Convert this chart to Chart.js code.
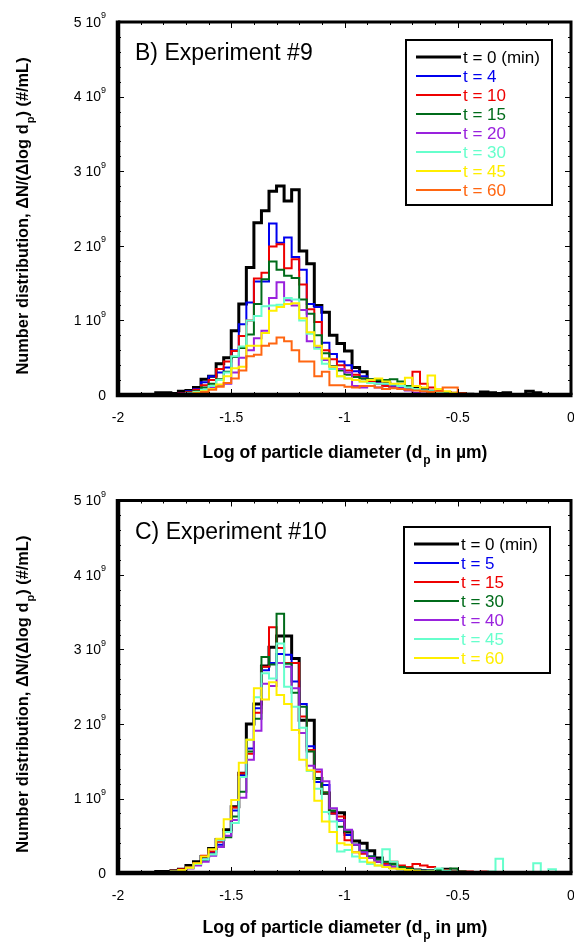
<!DOCTYPE html>
<html>
<head>
<meta charset="utf-8">
<script src="https://cdn.jsdelivr.net/npm/chart.js@4.4.1/dist/chart.umd.min.js"></script>
<style>
	html, body { margin: 0; padding: 0; background: #fff; }
	#wrap { position: relative; width: 574px; height: 943px; }
	canvas { position: absolute; left: 0; }
</style>
</head>
<body>
<div id="wrap">
	<canvas id="chart-exp9" width="574" height="470" style="top:0px"></canvas>
	<canvas id="chart-exp10" width="574" height="473" style="top:470px"></canvas>
</div>
<script>
// оси: log10 диаметра частиц, значения в единицах 10^9 #/mL
const xTicks = [-2, -1.5, -1, -0.5, 0];
const xTickLabels = ["-2", "-1.5", "-1", "-0.5", "0"];
const yTicks = [0, 1, 2, 3, 4, 5];
const yTickLabels = ["0", "1 10^9", "2 10^9", "3 10^9", "4 10^9", "5 10^9"];

// 60 интервалов шириной 1/30 декады от -2 до 0
const binStart = -2;
const binWidth = 1 / 30;
const binCount = 60;

// эксперимент #9
const exp9Names = ["t = 0 (min)", "t = 4", "t = 10", "t = 15", "t = 20", "t = 30", "t = 45", "t = 60"];
const exp9Colors = ["#000000", "#0000ee", "#ee0000", "#006b1a", "#9922dd", "#66ffcc", "#ffee00", "#ff6611"];
const exp9T0 = [
	0, 0, 0, 0, 0, 0.03, 0.03, 0.02, 0.05, 0.06,
	0.10, 0.21, 0.25, 0.42, 0.50, 0.86, 1.22, 1.71, 2.31, 2.47,
	2.73, 2.80, 2.60, 2.75, 1.93, 1.76, 1.20, 1.11, 0.80, 0.69,
	0.59, 0.37, 0.31, 0.20, 0.18, 0.16, 0.12, 0.10, 0.08, 0.10,
	0.08, 0.05, 0.04, 0.03, 0.02, 0.02, 0.01, 0, 0.04, 0.03,
	0.02, 0.03, 0, 0, 0.05, 0.03, 0, 0, 0, 0,
];
const exp9T4 = [
	0, 0, 0, 0, 0, 0, 0, 0, 0.02, 0.05,
	0.08, 0.17, 0.25, 0.30, 0.37, 0.60, 0.95, 1.24, 1.52, 1.52,
	2.30, 2.04, 2.11, 1.85, 1.68, 1.22, 1.18, 0.70, 0.55, 0.45,
	0.40, 0.32, 0.25, 0.20, 0.16, 0.14, 0.12, 0.10, 0.08, 0.07,
	0.06, 0.05, 0.04, 0.03, 0.02, 0.01, 0, 0, 0, 0,
	0, 0, 0, 0, 0, 0, 0, 0, 0, 0,
];
const exp9T10 = [
	0, 0, 0, 0, 0, 0, 0, 0, 0.02, 0.04,
	0.07, 0.13, 0.20, 0.35, 0.45, 0.59, 0.79, 1.00, 1.56, 1.64,
	1.99, 2.02, 1.70, 1.82, 1.48, 1.15, 0.98, 0.60, 0.48, 0.40,
	0.33, 0.27, 0.22, 0.18, 0.15, 0.12, 0.10, 0.12, 0.10, 0.31,
	0.15, 0.10, 0.06, 0.04, 0.03, 0.02, 0, 0, 0, 0,
	0, 0, 0, 0, 0, 0, 0, 0, 0, 0,
];
const exp9T15 = [
	0, 0, 0, 0, 0, 0, 0, 0, 0.01, 0.03,
	0.05, 0.10, 0.15, 0.21, 0.31, 0.51, 0.63, 0.81, 1.22, 1.55,
	1.79, 1.68, 1.60, 1.57, 1.28, 1.09, 0.80, 0.56, 0.39, 0.33,
	0.27, 0.24, 0.22, 0.21, 0.20, 0.20, 0.21, 0.18, 0.12, 0.08,
	0.06, 0.05, 0.04, 0.03, 0.02, 0, 0, 0, 0, 0,
	0, 0, 0, 0, 0, 0, 0, 0, 0, 0,
];
const exp9T20 = [
	0, 0, 0, 0, 0, 0, 0, 0, 0, 0.02,
	0.04, 0.06, 0.10, 0.13, 0.15, 0.30, 0.50, 0.60, 0.76, 0.86,
	1.30, 1.51, 1.27, 1.20, 1.14, 0.72, 0.64, 0.47, 0.38, 0.35,
	0.30, 0.12, 0.10, 0.12, 0.10, 0.08, 0.10, 0.09, 0.06, 0.03,
	0.02, 0, 0, 0, 0, 0, 0, 0, 0, 0,
	0, 0, 0, 0, 0, 0, 0, 0, 0, 0,
];
const exp9T30 = [
	0, 0, 0, 0, 0, 0, 0, 0, 0, 0.02,
	0.04, 0.07, 0.12, 0.20, 0.30, 0.52, 0.65, 1.00, 1.06, 1.19,
	1.20, 1.21, 1.30, 1.28, 1.00, 0.82, 0.62, 0.42, 0.35, 0.25,
	0.22, 0.20, 0.18, 0.16, 0.15, 0.15, 0.14, 0.12, 0.10, 0.08,
	0.06, 0.05, 0.03, 0.02, 0, 0, 0, 0, 0, 0,
	0, 0, 0, 0, 0, 0, 0, 0, 0, 0,
];
const exp9T45 = [
	0, 0, 0, 0, 0, 0, 0, 0, 0, 0.01,
	0.03, 0.05, 0.08, 0.14, 0.25, 0.36, 0.38, 0.66, 0.66, 0.83,
	1.13, 1.18, 1.22, 1.23, 1.03, 0.84, 0.66, 0.49, 0.38, 0.25,
	0.22, 0.20, 0.18, 0.20, 0.22, 0.18, 0.15, 0.15, 0.23, 0.12,
	0.10, 0.26, 0.08, 0.05, 0.03, 0.01, 0, 0, 0, 0,
	0, 0, 0, 0, 0, 0, 0, 0, 0, 0,
];
const exp9T60 = [
	0, 0, 0, 0, 0, 0, 0, 0, 0, 0.01,
	0.02, 0.04, 0.07, 0.11, 0.16, 0.22, 0.33, 0.52, 0.54, 0.66,
	0.69, 0.77, 0.72, 0.60, 0.45, 0.45, 0.25, 0.31, 0.13, 0.13,
	0.11, 0.10, 0.12, 0.12, 0.10, 0.08, 0.09, 0.08, 0.07, 0.06,
	0.05, 0.04, 0.05, 0.10, 0.10, 0.02, 0, 0, 0, 0,
	0, 0, 0, 0, 0, 0, 0, 0, 0, 0,
];

// эксперимент #10
const exp10Names = ["t = 0 (min)", "t = 5", "t = 15", "t = 30", "t = 40", "t = 45", "t = 60"];
const exp10Colors = ["#000000", "#0000ee", "#ee0000", "#006b1a", "#9922dd", "#66ffcc", "#ffee00"];
const exp10T0 = [
	0, 0, 0, 0, 0, 0.02, 0.02, 0.03, 0.05, 0.10,
	0.15, 0.22, 0.33, 0.45, 0.58, 0.89, 1.34, 2.00, 2.27, 2.78,
	3.03, 3.18, 3.18, 2.88, 2.05, 2.05, 1.27, 1.07, 0.81, 0.81,
	0.55, 0.43, 0.40, 0.30, 0.20, 0.12, 0.08, 0.06, 0.05, 0.04,
	0.03, 0.03, 0.02, 0.05, 0.02, 0.01, 0, 0, 0, 0,
	0, 0, 0, 0, 0, 0, 0, 0, 0, 0,
];
const exp10T5 = [
	0, 0, 0, 0, 0, 0, 0.01, 0.02, 0.04, 0.07,
	0.12, 0.18, 0.28, 0.38, 0.55, 0.84, 1.31, 1.67, 2.21, 2.72,
	2.82, 2.94, 2.93, 2.57, 2.27, 1.70, 1.22, 1.18, 0.80, 0.70,
	0.51, 0.38, 0.30, 0.22, 0.15, 0.10, 0.08, 0.05, 0.04, 0.04,
	0.03, 0.02, 0.03, 0.02, 0.03, 0.01, 0, 0, 0, 0,
	0, 0, 0, 0, 0, 0, 0, 0, 0, 0,
];
const exp10T15 = [
	0, 0, 0, 0, 0, 0, 0.01, 0.03, 0.05, 0.08,
	0.13, 0.23, 0.29, 0.42, 0.55, 0.88, 1.34, 1.60, 2.15, 2.77,
	3.30, 3.02, 2.82, 2.82, 2.10, 1.65, 1.36, 1.08, 0.80, 0.76,
	0.44, 0.28, 0.26, 0.20, 0.15, 0.12, 0.15, 0.10, 0.08, 0.12,
	0.10, 0.08, 0.05, 0.04, 0.03, 0.02, 0.02, 0.01, 0.02, 0.01,
	0, 0, 0, 0, 0, 0, 0, 0, 0, 0,
];
const exp10T30 = [
	0, 0, 0, 0, 0, 0, 0.01, 0.02, 0.04, 0.07,
	0.11, 0.17, 0.25, 0.35, 0.48, 0.76, 1.09, 1.63, 2.07, 2.90,
	2.80, 3.48, 2.81, 2.42, 2.23, 1.63, 1.27, 1.08, 0.84, 0.62,
	0.56, 0.38, 0.30, 0.22, 0.18, 0.15, 0.12, 0.08, 0.06, 0.04,
	0.03, 0.02, 0.04, 0.03, 0.06, 0.02, 0, 0, 0, 0,
	0, 0, 0, 0, 0, 0, 0, 0, 0, 0,
];
const exp10T40 = [
	0, 0, 0, 0, 0, 0, 0.01, 0.02, 0.03, 0.06,
	0.10, 0.15, 0.23, 0.35, 0.50, 0.71, 1.01, 1.52, 1.91, 2.54,
	2.51, 2.82, 2.77, 2.48, 1.88, 1.44, 1.39, 1.23, 0.87, 0.71,
	0.58, 0.38, 0.28, 0.20, 0.15, 0.10, 0.08, 0.05, 0.04, 0.03,
	0.02, 0.02, 0, 0, 0, 0, 0, 0, 0, 0,
	0, 0, 0, 0, 0, 0, 0, 0, 0, 0,
];
const exp10T45 = [
	0, 0, 0, 0, 0, 0, 0.01, 0.02, 0.04, 0.07,
	0.12, 0.18, 0.25, 0.44, 0.55, 0.67, 1.29, 1.79, 2.36, 2.68,
	2.61, 3.08, 2.50, 2.23, 1.95, 1.37, 1.13, 0.82, 0.69, 0.29,
	0.31, 0.22, 0.15, 0.12, 0.10, 0.32, 0.15, 0.05, 0.04, 0.03,
	0.02, 0.03, 0.06, 0.03, 0.02, 0.01, 0, 0, 0.01, 0.02,
	0.19, 0.01, 0, 0, 0, 0.13, 0.01, 0.05, 0, 0,
];
const exp10T60 = [
	0, 0, 0, 0, 0, 0, 0.01, 0.02, 0.04, 0.07,
	0.13, 0.22, 0.32, 0.46, 0.72, 0.98, 1.48, 1.79, 2.48, 2.33,
	2.56, 2.39, 2.27, 1.92, 1.52, 1.38, 0.97, 0.69, 0.55, 0.40,
	0.38, 0.28, 0.20, 0.14, 0.10, 0.08, 0.06, 0.05, 0.04, 0.03,
	0.02, 0.02, 0, 0, 0, 0, 0, 0, 0, 0,
	0, 0, 0, 0, 0, 0, 0, 0, 0, 0,
];

const FONT = "'Liberation Sans', Arial, Helvetica, sans-serif";

// левые края интервалов + закрывающая точка справа
function toSteps(values) {
	const pts = values.map((v, k) => ({ x: binStart + k * binWidth, y: v }));
	pts.push({ x: binStart + binCount * binWidth, y: values[values.length - 1] });
	return pts;
}

function makeDatasets(seriesList, names, colors) {
	return seriesList.map((values, i) => ({
		label: names[i],
		data: toSteps(values),
		borderColor: colors[i],
		borderWidth: i === 0 ? 3 : 2,
		stepped: "before", // значение держится до следующего края
		pointRadius: 0,
		fill: false,
		order: seriesList.length - i,
	}));
}

// текст с нижним индексом "p": части [обычный, индекс, обычный]
function drawSubText(ctx, parts, size, x, y) {
	const mainFont = "bold " + size + "px " + FONT;
	const subFont = "bold " + Math.round(size * 0.7) + "px " + FONT;
	ctx.font = mainFont;
	const w0 = ctx.measureText(parts[0]).width;
	const w2 = ctx.measureText(parts[2]).width;
	ctx.font = subFont;
	const w1 = ctx.measureText(parts[1]).width;
	const sx = x - (w0 + w1 + w2) / 2;
	ctx.textAlign = "left";
	ctx.textBaseline = "alphabetic";
	ctx.font = mainFont;
	ctx.fillText(parts[0], sx, y);
	ctx.font = subFont;
	ctx.fillText(parts[1], sx + w0 + 1, y + size * 0.35);
	ctx.font = mainFont;
	ctx.fillText(parts[2], sx + w0 + w1 + 1, y);
}

const plotDecor = {
	id: "plotDecor",
	afterDraw(chart, args, opts) {
		const {
			ctx,
			chartArea: { top, bottom, left, right },
			scales: { x, y },
		} = chart;
		ctx.save();
		ctx.strokeStyle = "#000";
		ctx.fillStyle = "#000";

		// мелкие и крупные засечки внутрь
		ctx.lineWidth = 1;
		ctx.beginPath();
		for (let v = -2; v <= 0.0001; v += 0.1) {
			const px = Math.round(x.getPixelForValue(v)) + 0.5;
			const major = xTicks.some((t) => Math.abs(t - v) < 1e-6);
			const len = major ? 6 : 3;
			ctx.moveTo(px, bottom);
			ctx.lineTo(px, bottom - len);
			ctx.moveTo(px, top);
			ctx.lineTo(px, top + len);
		}
		for (let v = 0; v <= 5.0001; v += 0.2) {
			const py = Math.round(y.getPixelForValue(v)) + 0.5;
			const major = yTicks.some((t) => Math.abs(t - v) < 1e-6);
			const len = major ? 6 : 3;
			ctx.moveTo(left, py);
			ctx.lineTo(left + len, py);
			ctx.moveTo(right, py);
			ctx.lineTo(right - len, py);
		}
		ctx.stroke();

		// рамка
		ctx.lineWidth = 3;
		ctx.beginPath();
		ctx.moveTo(left, top);
		ctx.lineTo(right, top);
		ctx.lineTo(right, bottom);
		ctx.stroke();
		ctx.lineWidth = 4.5;
		ctx.beginPath();
		ctx.moveTo(left, top - 1.5);
		ctx.lineTo(left, bottom);
		ctx.lineTo(right + 1.5, bottom);
		ctx.stroke();

		// подписи оси X
		ctx.font = "14px " + FONT;
		ctx.textAlign = "center";
		ctx.textBaseline = "middle";
		xTicks.forEach((t, i) => {
			ctx.fillText(xTickLabels[i], x.getPixelForValue(t), bottom + 23);
		});

		// подписи оси Y вида "3 10^9"
		yTicks.forEach((t, i) => {
			const py = y.getPixelForValue(t) + 1;
			const [base, exp] = yTickLabels[i].split("^");
			const edge = left - 12;
			ctx.textBaseline = "middle";
			ctx.textAlign = "right";
			if (exp) {
				ctx.font = "9px " + FONT;
				const ew = ctx.measureText(exp).width;
				ctx.fillText(exp, edge, py - 7);
				ctx.font = "14px " + FONT;
				ctx.fillText(base, edge - ew, py);
			} else {
				ctx.font = "14px " + FONT;
				ctx.fillText(base, edge, py);
			}
		});

		// заголовки осей
		drawSubText(ctx, ["Log of particle diameter (d", "p", " in \u00b5m)"], 17.5, (left + right) / 2, bottom + opts.xTitleOffset);
		ctx.save();
		ctx.translate(28, (top + bottom) / 2 + 8);
		ctx.rotate(-Math.PI / 2);
		drawSubText(ctx, ["Number distribution, \u0394N/(\u0394log d", "p", ") (#/mL)"], 16.4, 0, 0);
		ctx.restore();

		// название панели
		ctx.font = "23px " + FONT;
		ctx.textAlign = "left";
		ctx.textBaseline = "middle";
		ctx.fillStyle = "#000";
		ctx.fillText(opts.title, 135, top + 32);

		// легенда
		const lg = opts.legend;
		const bx = right - lg.fromRight;
		const by = top + lg.fromTop;
		const n = chart.data.datasets.length;
		const bh = 32 + (n - 1) * 19;
		ctx.lineWidth = 2;
		ctx.strokeRect(bx, by, 146, bh);
		ctx.font = "17px " + FONT;
		ctx.textBaseline = "middle";
		chart.data.datasets.forEach((ds, i) => {
			const ry = by + 17 + i * 19;
			ctx.strokeStyle = ds.borderColor;
			ctx.lineWidth = ds.borderWidth;
			ctx.beginPath();
			ctx.moveTo(bx + 10, ry);
			ctx.lineTo(bx + 55, ry);
			ctx.stroke();
			ctx.fillStyle = ds.borderColor;
			ctx.fillText(ds.label, bx + 57, ry + 1);
		});
		ctx.restore();
	},
};

function makeConfig(datasets, padding, decor) {
	return {
		type: "line",
		data: { datasets: datasets },
		options: {
			responsive: false,
			animation: false,
			devicePixelRatio: 1,
			layout: { padding: padding },
			scales: {
				x: { type: "linear", min: -2, max: 0, display: false },
				y: { type: "linear", min: 0, max: 5, display: false },
			},
			plugins: {
				legend: false,
				tooltip: { enabled: false },
				plotDecor: decor,
			},
			hover: { mode: null },
		},
		plugins: [plotDecor],
	};
}

const chart9 = new Chart(
	document.getElementById("chart-exp9"),
	makeConfig(
		makeDatasets([exp9T0, exp9T4, exp9T10, exp9T15, exp9T20, exp9T30, exp9T45, exp9T60], exp9Names, exp9Colors),
		{ left: 118, right: 3, top: 22, bottom: 75 },
		{ title: "B) Experiment #9", xTitleOffset: 63, legend: { fromRight: 165, fromTop: 18 } }
	)
);

const chart10 = new Chart(
	document.getElementById("chart-exp10"),
	makeConfig(
		makeDatasets([exp10T0, exp10T5, exp10T15, exp10T30, exp10T40, exp10T45, exp10T60], exp10Names, exp10Colors),
		{ left: 118, right: 3, top: 30.5, bottom: 70 },
		{ title: "C) Experiment #10", xTitleOffset: 60, legend: { fromRight: 167, fromTop: 26.5 } }
	)
);
</script>
</body>
</html>
